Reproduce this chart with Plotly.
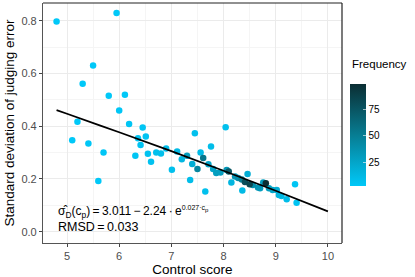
import plotly.graph_objects as go

# Data
control_score = [4.80, 5.95, 5.50, 5.30, 5.80, 6.11, 6.00, 5.20, 6.19, 5.10, 5.41, 5.70, 5.60,
                 6.45, 6.36, 6.51, 6.41, 6.31, 6.55, 6.61, 6.71, 6.80, 6.90, 7.01, 7.11, 7.20,
                 7.30, 7.45, 7.56, 7.50, 7.36, 7.61, 7.65, 7.76, 7.40, 7.71, 7.80, 7.86, 7.94,
                 8.04, 8.06, 8.10, 8.15, 8.22, 8.28, 8.35, 8.36, 8.41, 8.46, 8.50, 8.56, 8.66,
                 8.70, 8.76, 8.81, 8.87, 8.94, 9.02, 9.06, 9.11, 9.21, 9.37, 9.40]
sd_error = [0.797, 0.829, 0.630, 0.561, 0.515, 0.519, 0.459, 0.417, 0.408, 0.347, 0.334, 0.300, 0.192,
            0.395, 0.354, 0.361, 0.329, 0.288, 0.295, 0.265, 0.300, 0.296, 0.315, 0.235, 0.304, 0.275,
            0.288, 0.373, 0.300, 0.238, 0.196, 0.279, 0.152, 0.323, 0.257, 0.256, 0.238, 0.222, 0.224,
            0.396, 0.234, 0.228, 0.186, 0.209, 0.203, 0.198, 0.156, 0.188, 0.219, 0.180, 0.177, 0.167,
            0.165, 0.186, 0.184, 0.165, 0.158, 0.158, 0.139, 0.135, 0.123, 0.180, 0.110]
frequency = [3, 3, 3, 3, 3, 3, 4, 3, 5, 3, 4, 4, 3,
             5, 6, 6, 6, 5, 7, 7, 8, 9, 10, 8, 12, 14,
             30, 8, 12, 45, 10, 55, 8, 10, 20, 25, 25, 30, 30,
             8, 35, 75, 15, 35, 40, 50, 12, 80, 20, 85, 40, 35,
             30, 30, 99, 30, 25, 20, 15, 12, 10, 5, 6]

# Fitted curve values
fit_x = [4.8, 5.0, 6.0, 7.0, 8.0, 9.0, 10.0]
fit_y = [0.461, 0.447, 0.377, 0.305, 0.231, 0.155, 0.077]

x_ticks = [5, 6, 7, 8, 9, 10]
y_ticks = [0.0, 0.2, 0.4, 0.6, 0.8]
y_tick_labels = ["0.0", "0.2", "0.4", "0.6", "0.8"]
cbar_ticks = [25, 50, 75]

order = sorted(range(len(frequency)), key=lambda i: frequency[i])
xs = [control_score[i] for i in order]
ys = [sd_error[i] for i in order]
fs = [frequency[i] for i in order]

FONT = "Liberation Sans, Arial, sans-serif"
TS = "\u2009"  # thin space

fig = go.Figure()
fig.add_trace(go.Scatter(
    x=xs, y=ys, mode="markers",
    marker=dict(
        size=6.5, color=fs,
        colorscale=[[0, "#00C8F8"], [0.5, "#077D93"], [1, "#0B2E33"]],
        showscale=True,
        colorbar=dict(
            thickness=16, len=102, lenmode="pixels",
            x=1.027, xanchor="left", xref="paper",
            y=0.452, yanchor="middle", yref="paper",
            tickvals=cbar_ticks, ticks="inside", ticklen=3, tickcolor="rgba(255,255,255,0.6)",
            tickfont=dict(size=10, color="#000000", family=FONT),
            outlinewidth=0, ypad=0, xpad=0,
        ),
        line=dict(width=0),
    ),
    showlegend=False, hoverinfo="x+y",
))
fig.add_trace(go.Scatter(
    x=fit_x, y=fit_y, mode="lines", line=dict(color="black", width=1.8, shape="spline"),
    showlegend=False,
))

formula = ("σ\u0302<sub>D</sub>(c<sub>p</sub>)" + TS + "=" + TS + "3.011" + TS + "−" + TS
           + "2.24" + TS + "·" + TS
           + "e<sup><span style='font-size:7px'>0.027·c</span><sub><span style='font-size:6px'>p</span></sub></sup>")

fig.update_layout(
    width=415, height=277,
    margin=dict(l=43, r=73, t=3, b=34, autoexpand=False),
    paper_bgcolor="white", plot_bgcolor="white",
    font=dict(family=FONT),
    xaxis=dict(
        range=[4.54, 10.27], tickvals=x_ticks, showgrid=True, gridcolor="#EBEBEB", gridwidth=1,
        minor=dict(dtick=0.5, tick0=4.5, showgrid=True, gridcolor="#F5F5F5", gridwidth=0.7),
        zeroline=False, showline=True, linecolor="#555555", linewidth=1.2,
        ticks="outside", ticklen=3, tickcolor="#444444", automargin=False,
        tickfont=dict(size=11, color="#4D4D4D"),
        title=dict(text="Control score", font=dict(size=13.5, color="#000000"), standoff=3),
    ),
    yaxis=dict(
        range=[-0.043, 0.867], tickvals=y_ticks, ticktext=y_tick_labels,
        showgrid=True, gridcolor="#EBEBEB", gridwidth=1,
        minor=dict(dtick=0.1, tick0=0.1, showgrid=True, gridcolor="#F5F5F5", gridwidth=0.7),
        zeroline=False, showline=True, linecolor="#555555", linewidth=1.2,
        ticks="outside", ticklen=3, tickcolor="#444444", automargin=False,
        tickfont=dict(size=11, color="#4D4D4D"),
        title=dict(text="Standard deviation of judging error", font=dict(size=13.5, color="#000000"), standoff=3),
    ),
    shapes=[
        dict(type="line", xref="paper", yref="paper", x0=0, x1=1, y0=1, y1=1,
             line=dict(color="#222222", width=1.2)),
        dict(type="line", xref="paper", yref="paper", x0=1, x1=1, y0=0, y1=1,
             line=dict(color="#222222", width=1.2)),
    ],
    annotations=[
        dict(xref="paper", yref="paper", x=0.044, y=0.131, xanchor="left", yanchor="middle",
             text=formula, showarrow=False, font=dict(size=12, color="#000000")),
        dict(xref="paper", yref="paper", x=0.044, y=0.068, xanchor="left", yanchor="middle",
             text="RMSD" + TS + "=" + TS + "0.033", showarrow=False, font=dict(size=12.5, color="#000000")),
        dict(xref="paper", yref="paper", x=1.027, y=0.746, xanchor="left", yanchor="middle",
             text="Frequency", showarrow=False, font=dict(size=11.5, color="#000000")),
    ],
)

fig.write_html("out.html", config={"displayModeBar": False},
               post_script="document.body.style.margin='0px';document.body.style.overflow='hidden';")
